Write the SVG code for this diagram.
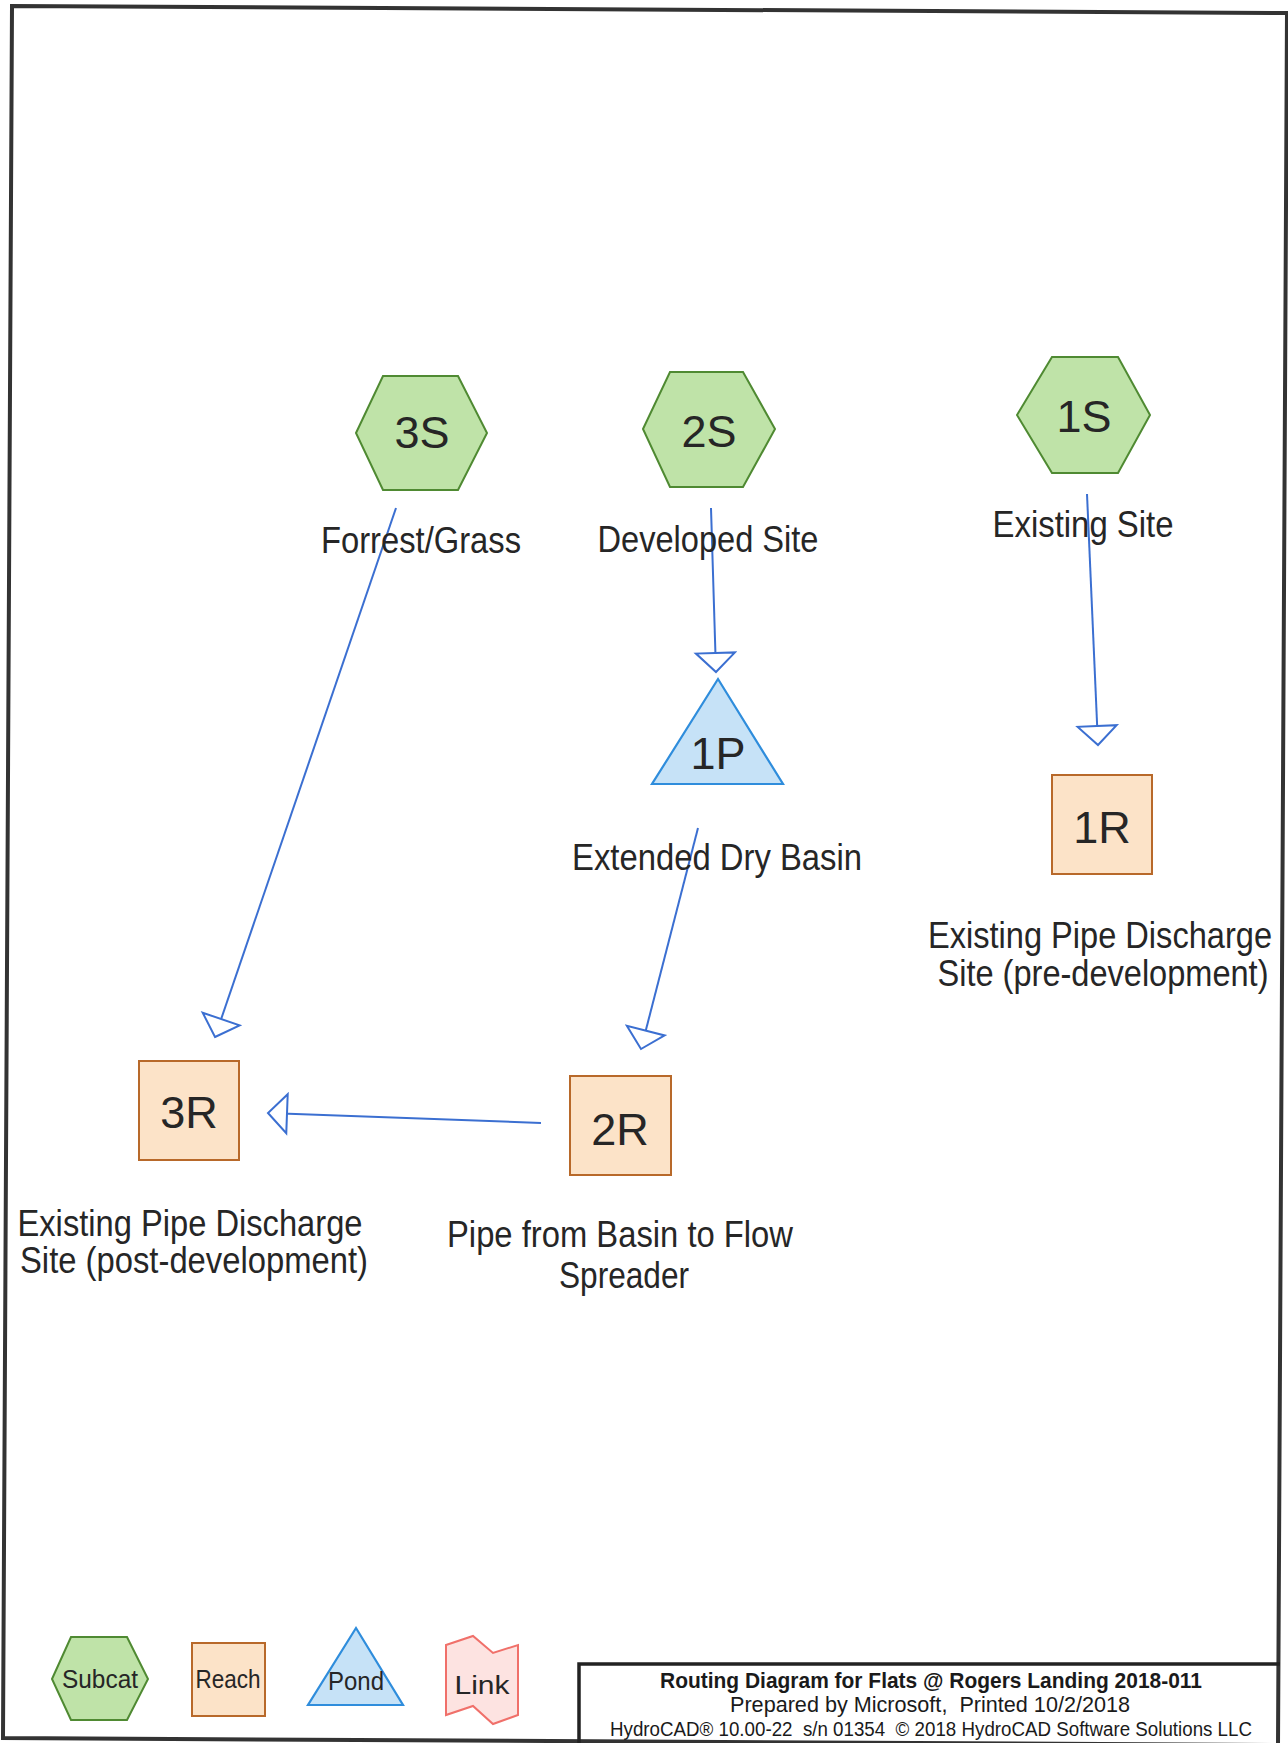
<svg xmlns="http://www.w3.org/2000/svg" width="1288" height="1743" viewBox="0 0 1288 1743">
<style>
.sub{fill:#bfe3a8;stroke:#4f8a32;stroke-width:2}
.rch{fill:#fce3c8;stroke:#b8692a;stroke-width:2}
.pnd{fill:#c6e2f7;stroke:#2f8ddc;stroke-width:2.2}
.lnk{fill:#fde3e1;stroke:#f0706a;stroke-width:2}
.id{font-family:"Liberation Sans",Arial,sans-serif;font-size:45px;fill:#262626;text-anchor:middle}
.lb{font-family:"Liberation Sans",Arial,sans-serif;font-size:36px;fill:#262626;text-anchor:middle}
.lg{font-family:"Liberation Sans",Arial,sans-serif;font-size:25px;fill:#262626;text-anchor:middle}
.ft{font-family:"Liberation Sans",Arial,sans-serif;fill:#1a1a1a;text-anchor:middle}
.con{fill:none;stroke:#3b6fd1;stroke-width:2}
</style>
<defs>
<marker id="ah" markerUnits="userSpaceOnUse" viewBox="-22 -22 24 44" markerWidth="24" markerHeight="44" refX="0" refY="0" orient="auto">
<path d="M0,0 L-19,-19.5 L-19,19.5 Z" fill="#ffffff" stroke="#3b6fd1" stroke-width="2"/>
</marker>
</defs>
<rect width="1288" height="1743" fill="#ffffff"/>
<polygon points="12,6 1287,13 1278,1745 3,1738" fill="none" stroke="#333333" stroke-width="4"/>

<g id="connectors">
<line class="con" x1="396" y1="508" x2="215" y2="1037" marker-end="url(#ah)"/>
<line class="con" x1="711" y1="508" x2="716" y2="672" marker-end="url(#ah)"/>
<line class="con" x1="1087" y1="494" x2="1098" y2="745" marker-end="url(#ah)"/>
<line class="con" x1="698" y1="828" x2="641" y2="1049" marker-end="url(#ah)"/>
<line class="con" x1="541" y1="1123" x2="268" y2="1113" marker-end="url(#ah)"/>
</g>

<g id="node-3S">
<polygon class="sub" points="356,433 383,376 458,376 487,433 458,490 383,490"/>
<text class="id" x="422" y="448">3S</text>
<text class="lb" x="421" y="553" textLength="200" lengthAdjust="spacingAndGlyphs">Forrest/Grass</text>
</g>
<g id="node-2S">
<polygon class="sub" points="643,429 670,372 743,372 775,429 743,487 670,487"/>
<text class="id" x="709" y="447">2S</text>
<text class="lb" x="708" y="552" textLength="221" lengthAdjust="spacingAndGlyphs">Developed Site</text>
</g>
<g id="node-1S">
<polygon class="sub" points="1017,415 1052,357 1118,357 1150,415 1118,473 1052,473"/>
<text class="id" x="1084" y="432">1S</text>
<text class="lb" x="1083" y="537" textLength="181" lengthAdjust="spacingAndGlyphs">Existing Site</text>
</g>
<g id="node-1P">
<polygon class="pnd" points="718,679 652,784 783,784"/>
<text class="id" x="718" y="769">1P</text>
<text class="lb" x="717" y="870" textLength="290" lengthAdjust="spacingAndGlyphs">Extended Dry Basin</text>
</g>
<g id="node-1R">
<rect class="rch" x="1052" y="775" width="100" height="99"/>
<text class="id" x="1102" y="843">1R</text>
<text class="lb" x="1100" y="948" textLength="344" lengthAdjust="spacingAndGlyphs">Existing Pipe Discharge</text>
<text class="lb" x="1103" y="986" textLength="331" lengthAdjust="spacingAndGlyphs">Site (pre-development)</text>
</g>
<g id="node-3R">
<rect class="rch" x="139" y="1061" width="100" height="99"/>
<text class="id" x="189" y="1128">3R</text>
<text class="lb" x="190" y="1236" textLength="345" lengthAdjust="spacingAndGlyphs">Existing Pipe Discharge</text>
<text class="lb" x="194" y="1273" textLength="348" lengthAdjust="spacingAndGlyphs">Site (post-development)</text>
</g>
<g id="node-2R">
<rect class="rch" x="570" y="1076" width="101" height="99"/>
<text class="id" x="620" y="1145">2R</text>
<text class="lb" x="620" y="1247" textLength="346" lengthAdjust="spacingAndGlyphs">Pipe from Basin to Flow</text>
<text class="lb" x="624" y="1288" textLength="130" lengthAdjust="spacingAndGlyphs">Spreader</text>
</g>

<g id="legend">
<g id="legend-subcat">
<polygon class="sub" points="52,1679 71,1637 127,1637 148,1679 127,1720 71,1720"/>
<text class="lg" x="100" y="1688" textLength="76" lengthAdjust="spacingAndGlyphs">Subcat</text>
</g>
<g id="legend-reach">
<rect class="rch" x="192" y="1643" width="73" height="73"/>
<text class="lg" x="228" y="1688" textLength="65" lengthAdjust="spacingAndGlyphs">Reach</text>
</g>
<g id="legend-pond">
<polygon class="pnd" points="356,1628 308,1705 403,1705"/>
<text class="lg" x="356" y="1690" textLength="56" lengthAdjust="spacingAndGlyphs">Pond</text>
</g>
<g id="legend-link">
<polygon class="lnk" points="446,1645 473,1636 493,1653 518,1645 518,1715 493,1724 473,1706 446,1715"/>
<text class="lg" x="482" y="1694" font-size="33" textLength="55" lengthAdjust="spacingAndGlyphs">Link</text>
</g>
</g>

<g id="title-block">
<polyline points="579,1745 579,1664 1280,1664" fill="none" stroke="#222222" stroke-width="3.5"/>
<text class="ft" x="931" y="1688" font-size="22" font-weight="bold" textLength="542" lengthAdjust="spacingAndGlyphs">Routing Diagram for Flats @ Rogers Landing 2018-011</text>
<text class="ft" x="930" y="1712" font-size="22" textLength="400" lengthAdjust="spacingAndGlyphs">Prepared by Microsoft, &#160;Printed 10/2/2018</text>
<text class="ft" x="931" y="1736" font-size="20" textLength="642" lengthAdjust="spacingAndGlyphs">HydroCAD® 10.00-22 &#160;s/n 01354 &#160;© 2018 HydroCAD Software Solutions LLC</text>
</g>
</svg>
